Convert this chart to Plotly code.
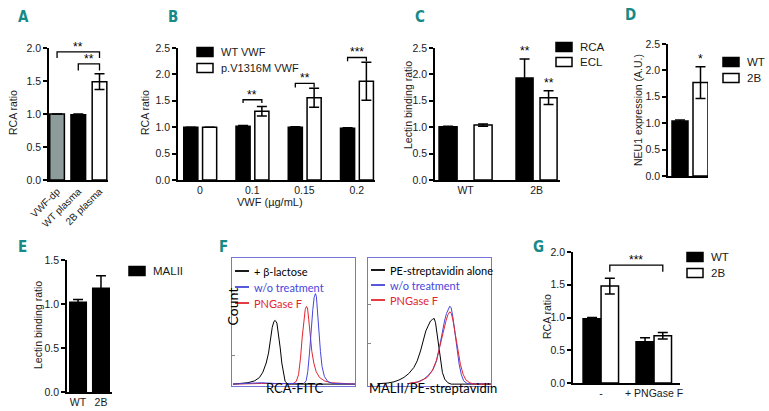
import plotly.graph_objects as go

W, H = 769, 411

# ---------------- data ----------------
A_cats = ["VWF-dp", "WT plasma", "2B plasma"]
A_vals = [1.00, 0.99, 1.49]
A_err = [0.0, 0.01, 0.12]
A_colors = ["#8e9b9b", "#000000", "#ffffff"]

B_cats = ["0", "0.1", "0.15", "0.2"]
B_wt = [1.00, 1.02, 1.00, 0.98]
B_wt_err = [0.0, 0.01, 0.01, 0.01]
B_mut = [1.00, 1.30, 1.56, 1.87]
B_mut_err = [0.0, 0.09, 0.18, 0.36]

C_cats = ["WT", "2B"]
C_rca = [1.01, 1.93]
C_rca_err = [0.01, 0.36]
C_ecl = [1.04, 1.56]
C_ecl_err = [0.02, 0.13]

D_wt = [1.04]
D_wt_err = [0.02]
D_2b = [1.77]
D_2b_err = [0.30]

E_cats = ["WT", "2B"]
E_vals = [1.02, 1.18]
E_err = [0.03, 0.14]

G_cats = ["-", "+ PNGase F"]
G_wt = [0.98, 0.63]
G_wt_err = [0.02, 0.06]
G_2b = [1.48, 0.72]
G_2b_err = [0.12, 0.05]

# flow cytometry histograms (channel, count)
F1_lac_x = [8, 76, 130, 184, 224, 251, 278, 297, 314, 327, 341, 351, 365, 378, 392, 405, 419, 432, 454, 1000]
F1_lac_y = [0, 0.5, 1.1, 2.6, 5.3, 9.5, 16.7, 24.6, 36.5, 45.0, 49.7, 50.5, 48.4, 40.5, 28.6, 16.7, 7.4, 2.1, 0, 0]
F1_wo_x = [8, 130, 238, 346, 508, 584, 603, 616, 630, 643, 657, 668, 678, 686, 697, 708, 719, 732, 751, 778, 819, 1000]
F1_wo_y = [0, 0.8, 1.1, 0.5, 0.3, 0.5, 2.6, 10, 24.6, 43, 59, 68.8, 71.7, 69.6, 57.7, 40.5, 25.9, 14, 6.1, 2.1, 0.5, 0]
F1_png_x = [8, 238, 495, 522, 541, 557, 570, 584, 595, 605, 614, 624, 635, 649, 665, 684, 711, 751, 805, 1000]
F1_png_y = [0, 0.5, 0.3, 2.1, 7.4, 20.6, 36.5, 51, 59, 61.6, 60.3, 51, 37.8, 25.9, 16.7, 10, 5.3, 2.6, 1.1, 0]

F2_pe_x = [76, 157, 211, 251, 292, 332, 373, 400, 427, 449, 470, 492, 508, 524, 538, 549, 562, 576, 589, 605, 624, 649, 676, 1000]
F2_pe_y = [0.3, 0.8, 1.8, 3.2, 5.3, 8.4, 13.2, 18.4, 26.3, 33.7, 42.1, 46.8, 50, 51.3, 52.1, 48.7, 39.5, 27.6, 17.1, 9.2, 3.9, 1.1, 0, 0]
F2_wo_x = [319, 400, 454, 495, 530, 557, 578, 600, 622, 638, 654, 665, 676, 689, 705, 724, 741, 759, 778, 805, 1000]
F2_wo_y = [0.3, 1.6, 3.9, 7.4, 11.8, 18.4, 27.6, 39.5, 50, 56, 60.5, 61.8, 60.5, 53.9, 42.1, 26.3, 15.8, 7.4, 2.6, 0.5, 0]
F2_png_x = [319, 414, 481, 522, 557, 584, 611, 635, 651, 665, 678, 692, 711, 730, 751, 773, 795, 827, 859, 1000]
F2_png_y = [0.3, 1.8, 5.3, 10.5, 18.9, 28.9, 40.8, 50.5, 55.3, 57.4, 55.8, 50, 39.5, 27.6, 15.8, 7.9, 3.4, 1.1, 0, 0]

# ---------------- helpers ----------------
def px(x):
    return x / W

def py(y):
    return 1 - y / H

TICKFONT = dict(family="Liberation Sans, Arial, sans-serif", size=10.5, color="#1a1a1a")
LABFONT = dict(family="Liberation Sans, Arial, sans-serif", size=10.5, color="#1a1a1a")
LEGFONT = dict(family="Liberation Sans, Arial, sans-serif", size=11.5, color="#1a1a1a")
LETTERFONT = dict(family="DejaVu Sans Condensed, Roboto Condensed, Roboto, sans-serif", size=15, color="#178a88")
CALFONT = "Lato, Open Sans, sans-serif"
BLUE = "#4646dc"
RED = "#e3262f"

fig = go.Figure()
layout = dict(template="none", width=W, height=H, margin=dict(l=0, r=0, t=0, b=0, autoexpand=False),
              autosize=False, paper_bgcolor="white", plot_bgcolor="rgba(0,0,0,0)", showlegend=False,
              barmode="overlay")
shapes = []
annotations = []


def bar_axes(n, xr, yr, yrange, ytickvals, xcats=None, tickangle=0, xticks=True):
    xa = dict(domain=[px(xr[0]), px(xr[1])], anchor="y%d" % n if n > 1 else "y", automargin=False,
              showline=True, linecolor="black", linewidth=1.5, showgrid=False, zeroline=False,
              ticks="", tickfont=TICKFONT, fixedrange=True)
    if xcats is not None:
        xa.update(tickmode="array", tickvals=list(range(len(xcats))), ticktext=xcats,
                  tickangle=tickangle)
    if not xticks:
        xa.update(showticklabels=False)
    ya = dict(domain=[py(yr[1]), py(yr[0])], anchor="x%d" % n if n > 1 else "x", automargin=False,
              range=yrange, showline=True, linecolor="black", linewidth=1.5,
              showgrid=False, zeroline=False, ticks="outside", ticklen=4, tickwidth=1.5,
              tickcolor="black", tickmode="array", tickvals=ytickvals,
              ticktext=["%.1f" % v for v in ytickvals], tickfont=TICKFONT, fixedrange=True)
    key = "" if n == 1 else str(n)
    layout["xaxis" + key] = xa
    layout["yaxis" + key] = ya


def add_bars(n, x, y, err, color, width, offset):
    key = "" if n == 1 else str(n)
    fig.add_trace(go.Bar(
        x=x, y=y, width=width, offset=offset,
        marker=dict(color=color, line=dict(color="black", width=1.5)),
        error_y=dict(type="data", array=err, visible=True, color="black", thickness=1.5, width=5),
        xaxis="x" + key, yaxis="y" + key, hoverinfo="skip"))


def bracket(n, x0, x1, ytop, ytip, label):
    key = "" if n == 1 else str(n)
    shapes.append(dict(type="path", xref="x" + key, yref="y" + key,
                       path="M %f,%f L %f,%f L %f,%f L %f,%f" % (x0, ytip, x0, ytop, x1, ytop, x1, ytip),
                       line=dict(color="black", width=1.3)))
    annotations.append(dict(x=(x0 + x1) / 2, y=ytop, xref="x" + key, yref="y" + key,
                            text=label, showarrow=False, yanchor="bottom", yshift=-4,
                            font=dict(family="Liberation Sans, Arial", size=12, color="black")))


def star(n, x, y, label):
    key = "" if n == 1 else str(n)
    annotations.append(dict(x=x, y=y, xref="x" + key, yref="y" + key, text=label,
                            showarrow=False, yanchor="bottom", yshift=-2,
                            font=dict(family="Liberation Sans, Arial", size=12, color="black")))


def ytitle(text, x, y):
    annotations.append(dict(x=px(x), y=py(y), xref="paper", yref="paper", text=text,
                            showarrow=False, textangle=-90, xanchor="center", yanchor="middle",
                            font=LABFONT))


def letter(text, x, y):
    annotations.append(dict(x=px(x), y=py(y), xref="paper", yref="paper", text="<b>%s</b>" % text,
                            showarrow=False, xanchor="center", yanchor="middle", font=LETTERFONT))


def legend_box(x, y, color, text, w=16, h=9, size=11.5):
    shapes.append(dict(type="rect", xref="paper", yref="paper",
                       x0=px(x), x1=px(x + w), y0=py(y + h / 2), y1=py(y - h / 2),
                       fillcolor=color, line=dict(color="black", width=1.5)))
    annotations.append(dict(x=px(x + w + 6), y=py(y), xref="paper", yref="paper", text=text,
                            showarrow=False, xanchor="left", yanchor="middle",
                            font=dict(LEGFONT, size=size)))


def legend_line(x, y, color, text):
    shapes.append(dict(type="line", xref="paper", yref="paper",
                       x0=px(x), x1=px(x + 14), y0=py(y), y1=py(y),
                       line=dict(color=color, width=1.8)))
    annotations.append(dict(x=px(x + 17), y=py(y), xref="paper", yref="paper", text=text,
                            showarrow=False, xanchor="left", yanchor="middle",
                            font=dict(family=CALFONT, size=11, color=color)))


# ---------------- Panel A ----------------
bar_axes(1, (49, 108), (48, 180), [0, 2.0], [0, 0.5, 1.0, 1.5, 2.0], A_cats, tickangle=-45)
layout["xaxis"]["range"] = [-0.38, 2.40]
layout["xaxis"]["tickfont"] = dict(TICKFONT, size=10)
A_w = 0.69
add_bars(1, list(range(len(A_cats))), A_vals, A_err, A_colors, A_w, -A_w / 2)
bracket(1, 0, 2, 1.94, 1.85, "**")
bracket(1, 1, 2, 1.76, 1.66, "**")
ytitle("RCA ratio", 13, 113)
letter("A", 23, 17)

# ---------------- Panel B ----------------
bar_axes(2, (178, 375), (48, 180), [0, 2.5], [0, 0.5, 1.0, 1.5, 2.0, 2.5], B_cats)
layout["xaxis2"]["range"] = [-0.42, 3.35]
B_w = 0.27
B_off_wt, B_off_mut = -0.31, 0.05
xs = list(range(len(B_cats)))
add_bars(2, xs, B_wt, B_wt_err, "black", B_w, B_off_wt)
add_bars(2, xs, B_mut, B_mut_err, "white", B_w, B_off_mut)
bl, br = B_off_wt + B_w / 2, B_off_mut + B_w / 2
bracket(2, 1 + bl, 1 + br, 1.52, 1.46, "**")
bracket(2, 2 + bl, 2 + br, 1.83, 1.75, "**")
bracket(2, 3 + bl, 3 + br, 2.32, 2.25, "***")
ytitle("RCA ratio", 145, 113)
annotations.append(dict(x=px(270), y=py(202), xref="paper", yref="paper", text="VWF (µg/mL)",
                        showarrow=False, xanchor="center", yanchor="middle", font=dict(LABFONT, size=11)))
legend_box(197, 52, "black", "WT VWF", size=11)
legend_box(197, 68, "white", "p.V1316M VWF", size=11)
letter("B", 173, 17)

# ---------------- Panel C ----------------
bar_axes(3, (435, 560), (48, 180), [0, 2.5], [0, 0.5, 1.0, 1.5, 2.0, 2.5], C_cats)
layout["xaxis3"]["range"] = [-0.43, 1.33]
C_w_rca = [0.254, 0.24]
C_off_rca = [-0.373, -0.289]
C_w_ecl = [0.254, 0.24]
C_off_ecl = [0.12, 0.049]
add_bars(3, [0, 1], C_rca, C_rca_err, "black", C_w_rca, C_off_rca)
add_bars(3, [0, 1], C_ecl, C_ecl_err, "white", C_w_ecl, C_off_ecl)
star(3, 1 + C_off_rca[1] + C_w_rca[1] / 2, C_rca[1] + C_rca_err[1] + 0.02, "**")
star(3, 1 + C_off_ecl[1] + C_w_ecl[1] / 2, C_ecl[1] + C_ecl_err[1] + 0.02, "**")
ytitle("Lectin binding ratio", 408, 105)
legend_box(556, 47, "black", "RCA")
legend_box(556, 62, "white", "ECL")
letter("C", 420, 17)

# ---------------- Panel D ----------------
bar_axes(4, (668, 708), (44, 176), [0, 2.5], [0, 0.5, 1.0, 1.5, 2.0, 2.5], xticks=False)
layout["xaxis4"]["range"] = [-0.55, 0.45]
D_w_wt, D_off_wt = 0.4, -0.45
D_w_2b, D_off_2b = 0.375, 0.075
add_bars(4, [0], D_wt, D_wt_err, "black", D_w_wt, D_off_wt)
add_bars(4, [0], D_2b, D_2b_err, "white", D_w_2b, D_off_2b)
star(4, D_off_2b + D_w_2b / 2, D_2b[0] + D_2b_err[0] + 0.02, "*")
ytitle("NEU1 expression (A.U.)", 638, 110)
legend_box(723, 62, "black", "WT")
legend_box(723, 78, "white", "2B")
letter("D", 630, 15)

# ---------------- Panel E ----------------
bar_axes(5, (67, 112), (260, 392), [0, 1.5], [0, 0.5, 1.0, 1.5], E_cats)
layout["xaxis5"]["range"] = [-0.48, 1.48]
E_w = 0.72
add_bars(5, [0, 1], E_vals, E_err, "black", E_w, -E_w / 2)
ytitle("Lectin binding ratio", 38, 325)
legend_box(129, 271, "black", "MALII")
letter("E", 22, 247)

# ---------------- Panel F ----------------
BOXC = "#7676d8"
for n, xr, ticks in ((6, (232, 355), [23, 47, 72]), (7, (368, 491), [32, 63])):
    layout["xaxis%d" % n] = dict(domain=[px(xr[0]), px(xr[1])], anchor="y%d" % n, range=[0, 1000],
                                 showline=True, mirror=True, linecolor=BOXC, linewidth=1.2,
                                 showgrid=False, zeroline=False, showticklabels=False, ticks="",
                                 fixedrange=True, automargin=False)
    layout["yaxis%d" % n] = dict(domain=[py(386), py(258)], anchor="x%d" % n, range=[-1.5, 100],
                                 showline=True, mirror=True, linecolor=BOXC, linewidth=1.2,
                                 showgrid=False, zeroline=False, showticklabels=False,
                                 ticks="inside", ticklen=3, tickcolor="#888", tickvals=ticks,
                                 fixedrange=True, automargin=False)

for n, xs_, ys_, col in ((6, F1_lac_x, F1_lac_y, "black"), (6, F1_png_x, F1_png_y, RED),
                         (6, F1_wo_x, F1_wo_y, BLUE),
                         (7, F2_pe_x, F2_pe_y, "black"), (7, F2_wo_x, F2_wo_y, BLUE),
                         (7, F2_png_x, F2_png_y, RED)):
    fig.add_trace(go.Scatter(x=xs_, y=ys_, mode="lines", line=dict(color=col, width=1),
                             xaxis="x%d" % n, yaxis="y%d" % n, hoverinfo="skip"))

legend_line(235, 271, "black", "+ β-lactose")
legend_line(235, 287, BLUE, "w/o treatment")
legend_line(235, 303, RED, "PNGase F")
legend_line(371, 270, "black", "PE-streptavidin alone")
legend_line(371, 285, BLUE, "w/o treatment")
legend_line(371, 300, RED, "PNGase F")
annotations.append(dict(x=px(221), y=py(328), xref="paper", yref="paper", text="Count",
                        showarrow=False, textangle=-90, font=dict(family=CALFONT, size=14, color="black")))
annotations.append(dict(x=px(295), y=py(398), xref="paper", yref="paper", text="RCA-FITC",
                        showarrow=False, font=dict(family=CALFONT, size=13, color="black")))
annotations.append(dict(x=px(433), y=py(398), xref="paper", yref="paper", text="MALII/PE-streptavidin",
                        showarrow=False, font=dict(family=CALFONT, size=13, color="black")))
letter("F", 223, 247)

# ---------------- Panel G ----------------
bar_axes(8, (573, 680), (252, 383), [0, 2.0], [0, 0.5, 1.0, 1.5, 2.0], G_cats)
layout["xaxis8"]["range"] = [-0.53, 1.49]
G_w_wt, G_off_wt = 0.34, -0.34
G_w_2b, G_off_2b = 0.33, 0.0
add_bars(8, [0, 1], G_wt, G_wt_err, "black", G_w_wt, G_off_wt)
add_bars(8, [0, 1], G_2b, G_2b_err, "white", G_w_2b, G_off_2b)
gc = G_off_2b + G_w_2b / 2
bracket(8, 0 + gc, 1 + gc, 1.80, 1.70, "***")
ytitle("RCA ratio", 547, 317)
legend_box(687, 257, "black", "WT")
legend_box(687, 273, "white", "2B")
letter("G", 538, 247)

layout["shapes"] = shapes
layout["annotations"] = annotations
fig.update_layout(**layout)
fig.write_html("out.html", config={"displayModeBar": False},
               post_script="document.body.style.margin='0';document.body.style.padding='0';")
